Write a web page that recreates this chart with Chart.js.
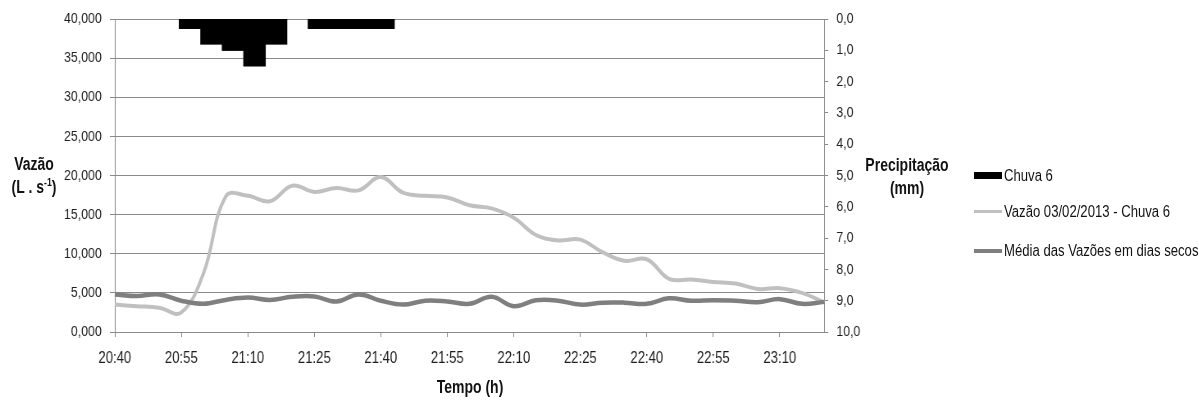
<!DOCTYPE html>
<html>
<head>
<meta charset="utf-8">
<script src="https://cdn.jsdelivr.net/npm/chart.js@4.4.1/dist/chart.umd.min.js"></script>
<style>
  body { margin: 0; background: #fff; overflow: hidden; }
  #wrap { position: relative; width: 1199px; height: 401px; overflow: hidden; font-family: 'Liberation Sans', Arial, sans-serif; color: #111; }
  #plot { position: absolute; left: 0; top: 0; width: 1462px; height: 401px; transform: scaleX(0.82); transform-origin: 0 0; }
  .ttl { position: absolute; font-weight: bold; font-size: 17.5px; text-align: center; line-height: 23px; white-space: nowrap;
         transform: translateX(-50%) scaleX(0.8); }
  .sw { position: absolute; left: 974px; width: 28px; }
  .lt { position: absolute; left: 1004px; font-size: 16px; height: 20px; line-height: 20px; white-space: nowrap;
        transform: scaleX(0.82); transform-origin: 0 50%; }
</style>
</head>
<body>
<div id="wrap">
  <div id="plot"><canvas id="myChart" width="1462" height="401"></canvas></div>
  <div class="ttl" style="left:34px; top:153px;">Vazão<br>(L . s<sup style="font-size:11px; line-height:0;">-1</sup>)</div>
  <div class="ttl" style="left:907px; top:154px;">Precipitação<br>(mm)</div>
  <div class="ttl" style="left:470px; top:376px;">Tempo (h)</div>
  <div class="sw" style="top:172px; height:7px; background:#000;"></div>
  <div class="lt" style="top:166px;">Chuva 6</div>
  <div class="sw" style="top:210px; height:3px; background:#c0c0c0;"></div>
  <div class="lt" style="top:202px;">Vazão 03/02/2013 - Chuva 6</div>
  <div class="sw" style="top:249px; height:4px; background:#7f7f7f;"></div>
  <div class="lt" style="top:241px;">Média das Vazões em dias secos</div>
</div>
<script>
//data
var times = ['20:40','20:45','20:50','20:55','21:00','21:05','21:10','21:15','21:20','21:25','21:30','21:35','21:40','21:45','21:50','21:55',
  '22:00','22:05','22:10','22:15','22:20','22:25','22:30','22:35','22:40','22:45','22:50','22:55','23:00','23:05','23:10','23:15','23:20'];
var chuva = [0,0,0,0.3,0.8,1.0,1.5,0.8,0,0.3,0.3,0.3,0.3,0,0,0,0,0,0,0,0,0,0,0,0,0,0,0,0,0,0,0,0];
var vazao = [3.5,3.3,3.1,2.5,7.5,17.3,17.4,16.7,18.7,17.9,18.4,18.1,19.8,17.8,17.4,17.2,16.2,15.8,14.6,12.4,11.7,11.8,10.2,9.1,9.3,6.8,6.7,6.4,6.2,5.5,5.6,5.0,3.8];
var media = [4.8,4.6,4.8,4.0,3.6,4.1,4.4,4.1,4.5,4.55,3.9,4.8,4.0,3.5,4.0,3.9,3.6,4.5,3.3,4.05,4.0,3.5,3.75,3.75,3.6,4.3,4.0,4.05,4.0,3.8,4.2,3.6,3.85];

Chart.defaults.font.family = "'Liberation Sans', Arial, sans-serif";
Chart.defaults.color = '#1e1e1e';

var gridColor = '#8a8a8a';

var config = {
  type: 'bar',
  data: {
    labels: times,
    datasets: [
      {
        type: 'line',
        label: 'Média das Vazões em dias secos',
        data: media,
        borderColor: '#7f7f7f',
        borderWidth: 4.5,
        pointRadius: 0,
        tension: 0.4,
        xAxisID: 'x',
        yAxisID: 'y'
      },
      {
        type: 'line',
        label: 'Vazão 03/02/2013 - Chuva 6',
        data: vazao,
        borderColor: '#c0c0c0',
        borderWidth: 4,
        pointRadius: 0,
        tension: 0.4,
        xAxisID: 'x',
        yAxisID: 'y'
      },
      {
        label: 'Chuva 6',
        data: chuva,
        // no fill for dry intervals, so the inflated 0 bars stay invisible
        backgroundColor: function (c) { return c.raw > 0 ? '#000' : 'rgba(0,0,0,0)'; },
        barPercentage: 1,
        categoryPercentage: 1,
        grouped: false,
        inflateAmount: 0.6,
        xAxisID: 'x2',
        yAxisID: 'y2'
      }
    ]
  },
  options: {
    responsive: false,
    animation: false,
    layout: { padding: { left: 0, right: 397, top: 17, bottom: 9 } },
    plugins: { legend: { display: false }, tooltip: { enabled: false } },
    scales: {
      x: {
        type: 'category',
        offset: false,
        afterFit: function (s) { s.height = 60; },
        grid: {
          offset: false,
          drawOnChartArea: false,
          tickLength: 5,
          color: function (c) { return c.index % 3 === 0 ? gridColor : 'rgba(0,0,0,0)'; }
        },
        border: { color: gridColor },
        ticks: {
          autoSkip: false,
          maxRotation: 0,
          padding: 12,
          font: { size: 16 },
          callback: function (v, i) { return i % 3 === 0 ? times[i] : ''; }
        }
      },
      x2: {
        type: 'category',
        offset: true,
        display: false
      },
      y: {
        position: 'left',
        min: 0,
        max: 40,
        afterFit: function (s) { s.width = 140; },
        grid: { color: gridColor, tickLength: 6 },
        border: { color: gridColor },
        ticks: {
          stepSize: 5,
          padding: 10,
          font: { size: 15 },
          callback: function (v) { return v.toFixed(3).replace('.', ','); }
        }
      },
      y2: {
        position: 'right',
        reverse: true,
        min: 0,
        max: 10,
        afterFit: function (s) { s.width = 60; },
        grid: { drawOnChartArea: false, color: gridColor, tickLength: 5 },
        border: { color: gridColor },
        ticks: {
          stepSize: 1,
          padding: 10,
          font: { size: 15 },
          callback: function (v) { return v.toFixed(1).replace('.', ','); }
        }
      }
    }
  }
};

var myChart = document.getElementById('myChart');
new Chart(myChart, config);
</script>
</body>
</html>
